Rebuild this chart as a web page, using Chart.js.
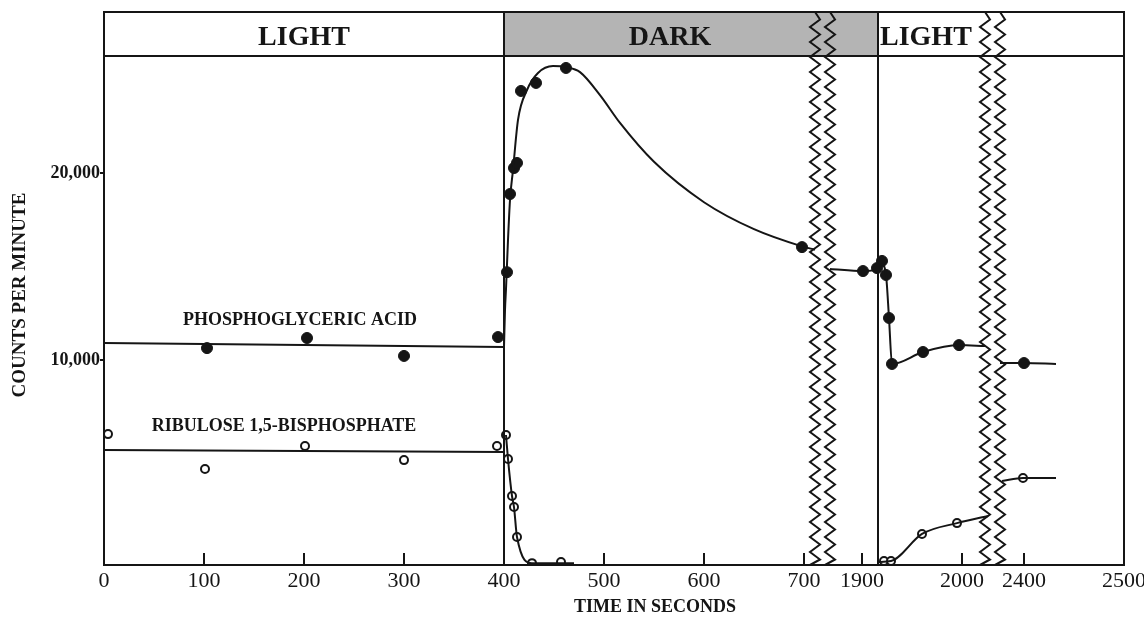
<!DOCTYPE html>
<html><head><meta charset="utf-8">
<script src="https://cdn.jsdelivr.net/npm/chart.js@4.4.1/dist/chart.umd.min.js"></script>
<style>html,body{margin:0;padding:0;background:#fff;overflow:hidden}canvas{display:block}</style>
</head><body>
<canvas id="c" width="1144" height="617"></canvas>
<script>
// ---------- tick labels ----------
const X_TICK_TIMES  = [0, 100, 200, 300, 400, 500, 600, 700, 1900, 2000, 2400, 2500];
const X_TICK_LABELS = ['0','100','200','300','400','500','600','700','1900','2000','2400','2500'];
const Y_TICK_VALUES = [10000, 20000];
const Y_TICK_LABELS = ['10,000', '20,000'];

// ---------- measured points ----------
const pgaTime   = [103, 203, 300, 394, 403, 406, 410, 413, 417, 432, 462, 698, 1901, 1915, 1920, 1924, 1927, 1930, 1961, 1997, 2400];
const pgaCounts = [10640, 11180, 10220, 11230, 14700, 18880, 20270, 20540, 24390, 24820, 25620, 16040, 14760, 14920, 15300, 14550, 12250, 9790, 10430, 10800, 9840];

const rubpTime   = [4, 101, 201, 300, 393, 402, 404, 408, 410, 413, 428, 457, 1922, 1929, 1960, 1995, 2399];
const rubpCounts = [6040, 4170, 5400, 4650, 5400, 5990, 4710, 2730, 2140, 540, -860, -800, -750, -750, 700, 1280, 3690];

// ---------- fitted curves ----------
const pgaLightFitTime = [0, 400];
const pgaLightFitVal  = [10910, 10700];
const pgaDarkFitTime  = [400, 401, 402, 404, 406, 409, 414, 423, 434, 449, 462, 476, 496, 516, 550, 600, 650, 698, 711];
const pgaDarkFitVal   = [10700, 12680, 13800, 16420, 18560, 20160, 22840, 24440, 25350, 25720, 25670, 25400, 24170, 22680, 20600, 18440, 17000, 16080, 15900];
const pgaSeg2FitTime  = [1868, 1901, 1915, 1920, 1924, 1927, 1930, 1961, 1997, 2023];
const pgaSeg2FitVal   = [14870, 14760, 14850, 15100, 14550, 12250, 9790, 10430, 10800, 10750];
const pgaSeg3FitTime  = [2376, 2400, 2432];
const pgaSeg3FitVal   = [9840, 9840, 9790];

const rubpLightFitTime = [0, 400];
const rubpLightFitVal  = [5190, 5080];
const rubpDarkFitTime  = [402, 404, 408, 410, 413, 428, 470];
const rubpDarkFitVal   = [5990, 4710, 2730, 2140, 540, -860, -860];
const rubpSeg2FitTime  = [1916, 1929, 1960, 1995, 2026];
const rubpSeg2FitVal   = [-800, -750, 700, 1280, 1660];
const rubpSeg3FitTime  = [2378, 2399, 2432];
const rubpSeg3FitVal   = [3530, 3690, 3690];

// ---------- annotations ----------
const phaseNames = ['LIGHT', 'DARK', 'LIGHT'];
const phaseStart = [0, 400, 1916];
const seriesLabels = ['PHOSPHOGLYCERIC ACID', 'RIBULOSE 1,5-BISPHOSPHATE'];
const seriesLabelTime = [196, 180];
const seriesLabelVal  = [12140, 6470];
const breakPairs = [[711, 1868], [2023, 2376]];

// ---------- broken time axis ----------
const AXIS_SEGMENTS = [
  {start: 0, end: 800, shift: 0},
  {start: 1800, end: 2150, shift: -1142},
  {start: 2300, end: 2600, shift: -1480}
];
function pos(t) {
  for (const s of AXIS_SEGMENTS) if (t >= s.start && t <= s.end) return t + s.shift;
  return t;
}
function pts(ts, vs) { return ts.map((t, i) => ({x: pos(t), y: vs[i]})); }

const SERIF = '"Liberation Serif", "Times New Roman", serif';
const INK = '#151515';

function lineDS(ts, vs) {
  return {type: 'line', data: pts(ts, vs), borderColor: INK, borderWidth: 2, pointRadius: 0,
          showLine: true, fill: false, cubicInterpolationMode: 'monotone'};
}

const datasets = [
  lineDS(pgaLightFitTime, pgaLightFitVal),
  lineDS(pgaDarkFitTime, pgaDarkFitVal),
  lineDS(pgaSeg2FitTime, pgaSeg2FitVal),
  lineDS(pgaSeg3FitTime, pgaSeg3FitVal),
  lineDS(rubpLightFitTime, rubpLightFitVal),
  lineDS(rubpDarkFitTime, rubpDarkFitVal),
  lineDS(rubpSeg2FitTime, rubpSeg2FitVal),
  lineDS(rubpSeg3FitTime, rubpSeg3FitVal),
  {label: seriesLabels[0], data: pts(pgaTime, pgaCounts), showLine: false,
   pointRadius: 5.5, pointBackgroundColor: INK, pointBorderColor: INK, pointBorderWidth: 1},
  {label: seriesLabels[1], data: pts(rubpTime, rubpCounts), showLine: false,
   pointRadius: 4, pointBackgroundColor: '#fff', pointBorderColor: INK, pointBorderWidth: 2}
];

function zigzag(ctx, cx, y0, y1) {
  ctx.beginPath();
  let y = y0, k = 0;
  ctx.moveTo(cx, y0);
  while (y < y1) {
    y = Math.min(y + 7.5, y1);
    k++;
    ctx.lineTo(cx + (k % 2 ? 5 : -5), y);
  }
  ctx.stroke();
}

const decor = {
  id: 'decor',
  afterDatasetsDraw(chart) {
    const ctx = chart.ctx, xs = chart.scales.x, ys = chart.scales.y, ca = chart.chartArea;
    const hTop = ca.top - 44;
    const px = t => xs.getPixelForValue(pos(t));
    ctx.save();
    // header shading
    ctx.fillStyle = '#b4b4b4';
    ctx.fillRect(px(phaseStart[1]), hTop, px(phaseStart[2]) - px(phaseStart[1]), ca.top - hTop);
    // header text
    ctx.fillStyle = INK;
    ctx.font = 'bold 28px ' + SERIF;
    ctx.textBaseline = 'middle';
    ctx.textAlign = 'center';
    ctx.fillText(phaseNames[0], (px(phaseStart[0]) + px(phaseStart[1])) / 2, hTop + 26);
    ctx.fillText(phaseNames[1], px(phaseStart[1]) + 166, hTop + 26);
    ctx.textAlign = 'left';
    ctx.fillText(phaseNames[2], px(phaseStart[2]) + 2, hTop + 26);
    // zigzags
    ctx.strokeStyle = INK; ctx.lineWidth = 2; ctx.lineJoin = 'miter';
    for (const pair of breakPairs) for (const t of pair) zigzag(ctx, px(t), hTop, ca.bottom);
    // frame
    ctx.lineWidth = 2;
    ctx.strokeRect(ca.left, hTop, ca.right - ca.left, ca.bottom - hTop);
    ctx.beginPath(); ctx.moveTo(ca.left, ca.top); ctx.lineTo(ca.right, ca.top); ctx.stroke();
    for (const t of [phaseStart[1], phaseStart[2]]) {
      ctx.beginPath(); ctx.moveTo(px(t), hTop); ctx.lineTo(px(t), ca.bottom); ctx.stroke();
    }
    // inward x ticks
    for (const t of X_TICK_TIMES) {
      const x = px(t);
      ctx.beginPath(); ctx.moveTo(x, ca.bottom); ctx.lineTo(x, ca.bottom - 12); ctx.stroke();
    }
    // series labels
    ctx.font = 'bold 18px ' + SERIF;
    ctx.textAlign = 'center';
    for (let i = 0; i < seriesLabels.length; i++) {
      ctx.fillText(seriesLabels[i], px(seriesLabelTime[i]), ys.getPixelForValue(seriesLabelVal[i]));
    }
    // axis titles
    ctx.font = 'bold 18px ' + SERIF;
    ctx.fillText('TIME IN SECONDS', 655, 607);
    ctx.translate(20, 295);
    ctx.rotate(-Math.PI / 2);
    ctx.font = 'bold 19px ' + SERIF;
    ctx.fillText('COUNTS PER MINUTE', 0, 0);
    ctx.restore();
  }
};

new Chart(document.getElementById('c'), {
  type: 'scatter',
  data: {datasets},
  options: {
    responsive: false, animation: false, devicePixelRatio: 1,
    layout: {padding: {top: 56, right: 20, left: 0, bottom: 0}},
    plugins: {legend: {display: false}, tooltip: {enabled: false}},
    scales: {
      x: {
        type: 'linear', min: 0, max: pos(2500),
        afterBuildTicks: s => { s.ticks = X_TICK_TIMES.map(t => ({value: pos(t)})); },
        ticks: {callback: (v, i) => X_TICK_LABELS[i], autoSkip: false, maxRotation: 0,
                font: {family: SERIF, size: 22}, color: INK, padding: 3},
        grid: {display: true, drawOnChartArea: false, drawTicks: false},
        border: {display: true, color: INK, width: 2},
        afterFit: s => { s.height = 52; s.paddingLeft = 0; s.paddingRight = 0; }
      },
      y: {
        min: -960, max: 26260,
        afterBuildTicks: s => { s.ticks = Y_TICK_VALUES.map(v => ({value: v})); },
        ticks: {callback: (v, i) => Y_TICK_LABELS[i], font: {family: SERIF, size: 18, weight: 'bold'},
                color: INK, padding: 0},
        grid: {display: true, drawOnChartArea: false, drawTicks: true, tickLength: 4, color: INK, lineWidth: 2},
        border: {display: true, color: INK, width: 2},
        afterFit: s => { s.width = 104; s.paddingTop = 0; s.paddingBottom = 0; }
      }
    }
  },
  plugins: [decor]
});
</script></body></html>
